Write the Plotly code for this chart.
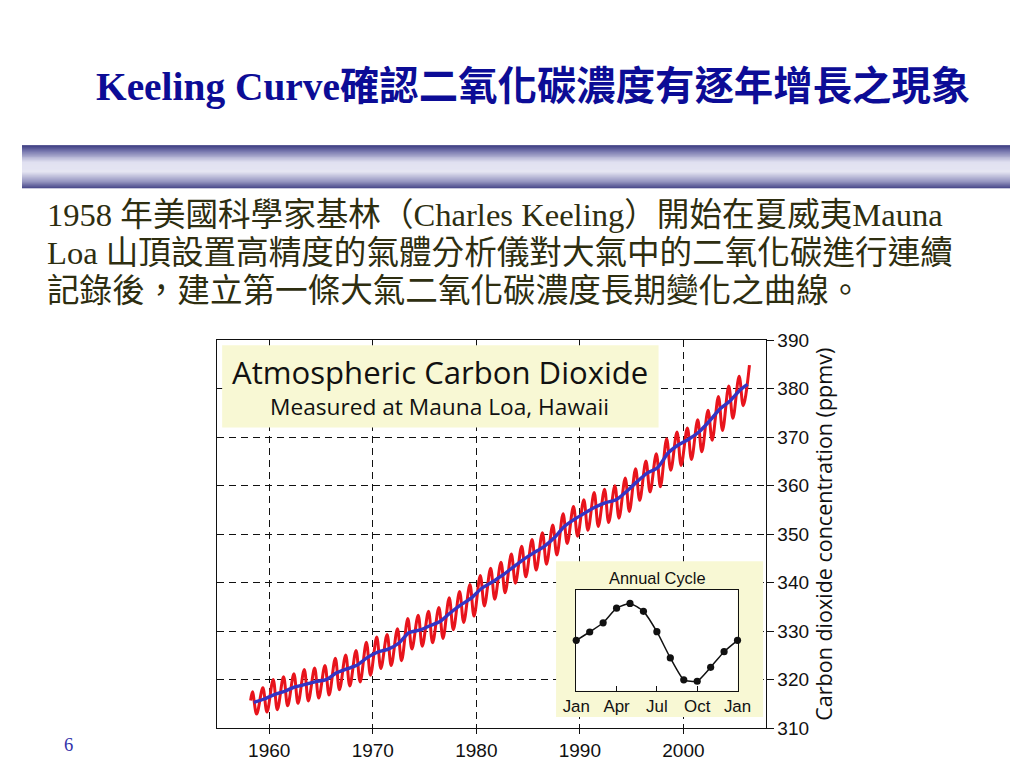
import plotly.graph_objects as go

# --- data ---
years = list(range(1958, 2007))
# monthly record: March 1958 start, then May peak / autumn low of every year
red_start = 315.7
peaks = [317.5, 318.3, 320.0, 320.6, 321.2, 322.1, 322.4, 322.9, 324.4, 325.1,
         326.0, 327.7, 328.8, 329.3, 330.5, 332.6, 333.3, 334.1, 334.9, 336.9,
         338.2, 339.6, 341.5, 343.0, 344.2, 345.9, 347.5, 348.9, 350.3, 351.9,
         354.2, 355.7, 357.1, 358.6, 359.3, 360.0, 361.6, 363.5, 365.1, 366.6,
         369.7, 371.1, 371.9, 373.6, 375.6, 378.4, 380.6, 382.6, 384.9]
troughs = [312.9, 313.3, 313.8, 314.6, 315.1, 315.6, 316.2, 316.8, 317.9, 318.7,
           319.5, 320.9, 322.3, 322.9, 323.9, 326.3, 326.9, 327.6, 328.5, 330.3,
           331.8, 333.1, 335.2, 336.6, 337.9, 339.9, 341.2, 342.6, 343.8, 345.7,
           348.1, 349.6, 350.8, 351.6, 352.4, 353.3, 354.7, 357.0, 358.7, 359.8,
           363.2, 364.2, 365.4, 367.0, 369.4, 371.4, 373.9, 376.5]
# smoothed trend (blue), mid-year values 1958..2005 plus the last point
trend = [315.3, 316.0, 316.9, 317.6, 318.5, 319.0, 319.6, 320.0, 321.4, 322.2,
         323.0, 324.6, 325.7, 326.3, 327.5, 329.7, 330.2, 331.1, 332.0, 333.8,
         335.4, 336.8, 338.8, 340.1, 341.5, 343.1, 344.7, 346.1, 347.4, 349.2,
         351.6, 353.1, 354.4, 355.6, 356.5, 357.1, 358.8, 360.8, 362.6, 363.7,
         366.7, 368.4, 369.6, 371.1, 373.3, 375.8, 377.5, 379.8]
trend_end = (2006.2, 380.9)

# annual cycle inset (ppm departure from the yearly mean)
cycle_months = ['Jan', 'Feb', 'Mar', 'Apr', 'May', 'Jun', 'Jul', 'Aug', 'Sep', 'Oct', 'Nov', 'Dec', 'Jan']
cycle_vals = [0.0, 0.6, 1.26, 2.31, 2.65, 2.08, 0.62, -1.26, -2.83, -2.93, -1.93, -0.81, 0.0]
cycle_ticks = ['Jan', 'Apr', 'Jul', 'Oct', 'Jan']

# build the monthly curve: Mar 1958, then May peak / Oct low for each year
red_x = [1958.2]
red_y = [red_start]
for i, yr in enumerate(years):
    red_x.append(yr + 0.38)
    red_y.append(peaks[i])
    if i < len(troughs):
        red_x.append(yr + 0.78)
        red_y.append(troughs[i])

trend_x = [yr + 0.5 for yr in years[:len(trend)]] + [trend_end[0]]
trend_y = trend + [trend_end[1]]

# page is shown a little shrunk with a border, so place things from slide pixels
FW, FH = 1016, 760
S, OX, OY = 0.975, 21.3, 17.3
def px(x):
    return (x - OX) / S / FW
def py(y):
    return 1 - (y - OY) / S / FH
def fs(v):
    return round(v / S, 1)

fig = go.Figure()
fig.add_trace(go.Scatter(x=red_x, y=red_y, mode='lines', line=dict(color='#e8141c', width=fs(2.9), shape='spline'),
                         showlegend=False, hoverinfo='skip'))
fig.add_trace(go.Scatter(x=trend_x, y=trend_y, mode='lines', line=dict(color='#3434c4', width=fs(3.3), shape='spline', smoothing=0.6),
                         showlegend=False))
fig.add_trace(go.Scatter(x=list(range(len(cycle_vals))), y=cycle_vals, mode='lines+markers', xaxis='x2', yaxis='y2',
                         text=cycle_months, line=dict(color='#111111', width=1.5, shape='spline', smoothing=0.5),
                         marker=dict(color='#111111', size=fs(7)), cliponaxis=False, showlegend=False))

shapes = []
# blue gradient band under the title
band_top, band_bot = 145, 188
stops = [(0.0, (30, 30, 110)), (0.15, (105, 105, 165)), (0.4, (218, 218, 238)),
         (0.62, (224, 224, 240)), (0.85, (125, 125, 178)), (1.0, (30, 30, 110))]
for r in range(band_top, band_bot):
    t = (r - band_top + 0.5) / (band_bot - band_top)
    for (t0, c0), (t1, c1) in zip(stops[:-1], stops[1:]):
        if t0 <= t <= t1:
            f = (t - t0) / (t1 - t0)
            c = tuple(int(c0[k] + (c1[k] - c0[k]) * f) for k in range(3))
            break
    shapes.append(dict(type='rect', xref='paper', yref='paper', x0=0, x1=1, y0=py(r + 1.05), y1=py(r),
                       fillcolor='rgb(%d,%d,%d)' % c, line=dict(width=0), layer='below'))

# light yellow panels (cover the dashed grid, stay under the curves)
yellow = '#f8f8d4'
shapes.append(dict(type='rect', xref='x', yref='y', x0=1955.45, x1=1997.6, y0=372.0, y1=389.0,
                   fillcolor=yellow, line=dict(width=0), layer='between'))
shapes.append(dict(type='rect', xref='x', yref='y', x0=1987.7, x1=2007.7, y0=312.3, y1=344.4,
                   fillcolor=yellow, line=dict(width=0), layer='between'))
# white inside the inset frame
shapes.append(dict(type='rect', xref='x2', yref='y2', x0=0, x1=12, y0=-3.6, y1=3.6,
                   fillcolor='white', line=dict(width=0), layer='below'))

serif = 'Liberation Serif, Times New Roman, Noto Sans CJK TC'
body_color = '#2e2e10'
annotations = [
    dict(text='<b>Keeling Curve確認二氧化碳濃度有逐年增長之現象</b>', x=px(93), y=py(86), xanchor='left', yanchor='middle',
         font=dict(family=serif, size=fs(38.4), color='#0c0c96')),
    dict(text='1958 年美國科學家基林（Charles Keeling）開始在夏威夷Mauna', x=px(44), y=py(215), xanchor='left', yanchor='middle',
         font=dict(family=serif, size=fs(31.8), color=body_color)),
    dict(text='Loa 山頂設置高精度的氣體分析儀對大氣中的二氧化碳進行連續', x=px(44), y=py(253), xanchor='left', yanchor='middle',
         font=dict(family=serif, size=fs(31.8), color=body_color)),
    dict(text='記錄後，建立第一條大氣二氧化碳濃度長期變化之曲線。', x=px(44), y=py(291), xanchor='left', yanchor='middle',
         font=dict(family=serif, size=fs(31.8), color=body_color)),
    dict(text='Atmospheric Carbon Dioxide', x=px(440), y=py(372), xanchor='center', yanchor='middle',
         font=dict(family='Open Sans', size=fs(30.3), color='#111111')),
    dict(text='Measured at Mauna Loa, Hawaii', x=px(440), y=py(407), xanchor='center', yanchor='middle',
         font=dict(family='Open Sans', size=fs(22.1), color='#111111')),
    dict(text='Annual Cycle', x=px(658), y=py(579), xanchor='center', yanchor='middle',
         font=dict(family='Liberation Sans, Arial', size=fs(16), color='#111111')),
    dict(text='6', x=px(68), y=py(746), xanchor='center', yanchor='middle',
         font=dict(family=serif, size=fs(18), color='#3333aa')),
]
for a in annotations:
    a.update(xref='paper', yref='paper', showarrow=False)

sans = 'Liberation Sans, Arial'
fig.update_layout(
    width=FW, height=FH, margin=dict(l=0, r=0, t=0, b=0),
    paper_bgcolor='white', plot_bgcolor='white',
    shapes=shapes, annotations=annotations,
    xaxis=dict(domain=[px(217.3), px(767.5)], range=[1955, 2008], tick0=1960, dtick=10,
               showgrid=True, gridcolor='#111111', gridwidth=1, griddash='7px,5px',
               showline=True, mirror=True, linecolor='#111111', linewidth=1.2,
               ticks='outside', ticklen=fs(5), tickcolor='#111111', zeroline=False,
               tickfont=dict(family=sans, size=fs(18.5), color='#111111')),
    yaxis=dict(domain=[py(729.3), py(340.5)], range=[310, 390], dtick=10, side='right',
               showgrid=True, gridcolor='#111111', gridwidth=1, griddash='7px,5px',
               showline=True, mirror=True, linecolor='#111111', linewidth=1.2,
               ticks='outside', ticklen=fs(6), tickcolor='#111111', zeroline=False,
               tickfont=dict(family=sans, size=fs(18.5), color='#111111'),
               title=dict(text='Carbon dioxide concentration (ppmv)', standoff=fs(7),
                          font=dict(family='Open Sans', size=fs(21), color='#111111'))),
    xaxis2=dict(domain=[px(577), px(738.7)], anchor='y2', range=[0, 12],
                tickvals=[0, 3, 6, 9, 12], ticktext=cycle_ticks,
                showgrid=False, zeroline=False, showline=True, mirror=True,
                linecolor='#111111', linewidth=1, ticks='inside', ticklen=fs(4), tickcolor='#111111',
                tickfont=dict(family=sans, size=fs(16.5), color='#111111')),
    yaxis2=dict(domain=[py(691.7), py(591)], anchor='x2', range=[-3.6, 3.6],
                showgrid=False, zeroline=False, showline=True, mirror=True,
                linecolor='#111111', linewidth=1, showticklabels=False, ticks=''),
)

fig.write_html("out.html")
